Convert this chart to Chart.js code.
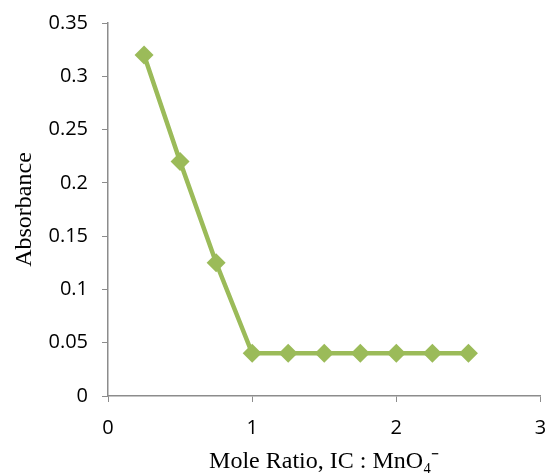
<!DOCTYPE html>
<html>
<head>
<meta charset="utf-8">
<script src="https://cdn.jsdelivr.net/npm/chart.js@4/dist/chart.umd.min.js"></script>
<style>
  html, body { margin: 0; padding: 0; background: #fff; }
  #wrap { width: 550px; height: 476px; }
</style>
</head>
<body>
<div id="wrap"><canvas id="absChart" width="550" height="476"></canvas></div>
<script>
const moleRatio = [0.25, 0.5, 0.75, 1, 1.25, 1.5, 1.75, 2, 2.25, 2.5];
const absorbance = [0.32, 0.22, 0.125, 0.04, 0.04, 0.04, 0.04, 0.04, 0.04, 0.04];
const xTitle = 'Mole Ratio, IC : MnO\u2084\u207B';
const yTitle = 'Absorbance';

const green = '#9BBB59';
const axisGrey = '#8c8c8c';

const ctx = document.getElementById('absChart').getContext('2d');
new Chart(ctx, {
    type: 'scatter',
    data: {
        datasets: [{
            data: moleRatio.map((x, i) => ({ x: x, y: absorbance[i] })),
            showLine: true,
            borderColor: green,
            backgroundColor: green,
            borderWidth: 4.5,
            pointStyle: 'rectRot',
            pointRadius: 9.5,
            pointHoverRadius: 9.5,
            pointBorderWidth: 0
        }]
    },
    options: {
        responsive: false,
        animation: false,
        layout: { padding: { top: 23, right: 0, left: 6, bottom: 0 } },
        plugins: { legend: { display: false }, tooltip: { enabled: false } },
        scales: {
            x: {
                type: 'linear',
                min: 0,
                max: 3,
                ticks: { stepSize: 1, color: '#000', font: { family: 'Open Sans', size: 20 }, padding: 14 },
                grid: { drawOnChartArea: false, drawTicks: true, tickLength: 6, color: axisGrey },
                border: { color: axisGrey, width: 1.5 },
                title: { display: true, text: xTitle, color: '#000', font: { family: 'Liberation Serif', size: 24 }, padding: { top: 4, bottom: 0 } },
                afterFit: s => { s.height = 80; s.paddingRight = 5; s.paddingLeft = 0; }
            },
            y: {
                min: 0,
                max: 0.35,
                ticks: { stepSize: 0.05, color: '#000', font: { family: 'Open Sans', size: 20 }, padding: 14,
                         callback: v => String(+v.toFixed(2)) },
                grid: { drawOnChartArea: false, drawTicks: true, tickLength: 6, color: axisGrey },
                border: { color: axisGrey, width: 1.5 },
                title: { display: true, text: yTitle, color: '#000', font: { family: 'Liberation Serif', size: 24 } },
                afterFit: s => { s.width = 102; s.paddingTop = 0; }
            }
        }
    }
});
</script>
</body>
</html>
